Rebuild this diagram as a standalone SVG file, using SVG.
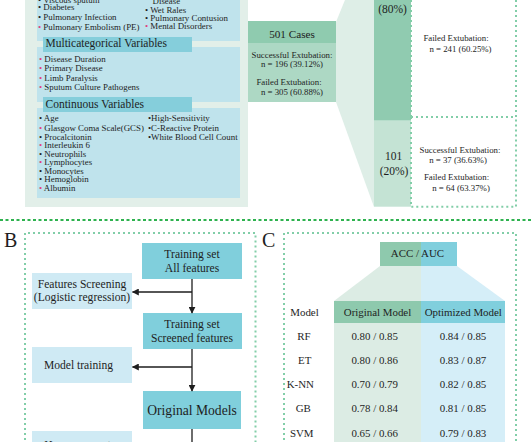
<svg xmlns="http://www.w3.org/2000/svg" width="531" height="442" viewBox="0 0 531 442">
<defs>
<style>
text{font-family:"Liberation Serif","Times New Roman",serif;fill:#1e1e1e}
.s9{font-size:8.9px}
.s88{font-size:8.8px}
.hd{font-size:11.5px}
.b{font-size:11.6px}
.c{font-size:10.9px}
.m{text-anchor:middle}
.pk{fill:#e0407f}
.bl{fill:#bfe3ec}
.hb{fill:#85cedb}
.dot{fill:none;stroke:#82cea8;stroke-width:2;stroke-dasharray:2 3}
.cy{fill:#80cfdc}
.lc{fill:#cfeaf4}
.ln{stroke:#1e1e1e;stroke-width:1.3;fill:none}
</style>
<marker id="ah" viewBox="0 0 10 10" refX="9" refY="5" markerWidth="7" markerHeight="7" markerUnits="userSpaceOnUse" orient="auto">
<path d="M0,0 L10,5 L0,10 z" fill="#1e1e1e"/>
</marker>
</defs>
<rect width="531" height="442" fill="#ffffff"/>

<!-- Panel A -->
<g id="panelA">
<rect x="25" y="-20" width="223" height="227" fill="#e2efe9"/>
<g id="binary">
<rect class="bl" x="37" y="-20" width="203" height="61"/>
<text class="s9" x="38" y="2.7">• Viscous sputum</text>
<text class="s9" x="38" y="10">• Diabetes</text>
<text class="s9" x="38" y="19.5">• Pulmonary Infection</text>
<text class="s9" x="38" y="30"><tspan class="pk">•</tspan> Pulmonary Embolism (PE)</text>
<text class="s9" x="152.5" y="4">Disease</text>
<text class="s9" x="145" y="12.7">• Wet Rales</text>
<text class="s9" x="145" y="21.3">• Pulmonary Contusion</text>
<text class="s9" x="145" y="29.3"><tspan class="pk">•</tspan> Mental Disorders</text>
</g>
<g id="multicategorical">
<rect class="bl" x="37" y="47" width="203" height="55"/>
<rect class="hb" x="43" y="37" width="149" height="15"/>
<text class="hd" x="45.5" y="46.5">Multicategorical Variables</text>
<text class="s9" x="39" y="61.7"><tspan class="pk">•</tspan> Disease Duration</text>
<text class="s9" x="39" y="71"><tspan class="pk">•</tspan> Primary Disease</text>
<text class="s9" x="39" y="80.7"><tspan class="pk">•</tspan> Limb Paralysis</text>
<text class="s9" x="39" y="90.3"><tspan class="pk">•</tspan> Sputum Culture Pathogens</text>
</g>
<g id="continuous">
<rect class="bl" x="37" y="108" width="203" height="90"/>
<rect class="hb" x="43" y="97" width="149" height="15"/>
<text class="hd" x="45.5" y="107.5">Continuous Variables</text>
<text class="s9" x="39" y="121">• Age</text>
<text class="s9" x="39" y="130.7"><tspan class="pk">•</tspan> Glasgow Coma Scale(GCS)</text>
<text class="s9" x="39" y="139.7">• Procalcitonin</text>
<text class="s9" x="39" y="148.3"><tspan class="pk">•</tspan> Interleukin 6</text>
<text class="s9" x="39" y="156.7">• Neutrophils</text>
<text class="s9" x="39" y="165.3"><tspan class="pk">•</tspan> Lymphocytes</text>
<text class="s9" x="39" y="174">• Monocytes</text>
<text class="s9" x="39" y="182.3">• Hemoglobin</text>
<text class="s9" x="39" y="191"><tspan class="pk">•</tspan> Albumin</text>
<text class="s9" x="148" y="121">•High-Sensitivity</text>
<text class="s9" x="148" y="131.3">•C-Reactive Protein</text>
<text class="s9" x="148" y="140.3">•White Blood Cell Count</text>
</g>
</g>

<g id="split">
<polygon points="336,22 349,-10 374,-10 374,207 336,102" fill="#deeee7"/>
</g>

<g id="cases501">
<rect x="248" y="21" width="88" height="22" fill="#8fcbaf"/>
<rect x="248" y="43" width="88" height="59" fill="#add8c4"/>
<text class="m" x="292" y="37.7" style="font-size:11.2px">501 Cases</text>
<text class="s88 m" x="292" y="58.3">Successful Extubation:</text>
<text class="s88 m" x="292" y="67.3">n = 196 (39.12%)</text>
<text class="s88 m" x="289" y="85">Failed Extubation:</text>
<text class="s88 m" x="292" y="95">n = 305 (60.88%)</text>
</g>

<g id="train400">
<rect x="374" y="-20" width="37" height="140.7" fill="#90cbb0"/>
<text class="m" x="392.5" y="13" style="font-size:11.5px">(80%)</text>
<rect x="411" y="-20" width="105" height="137" fill="#ffffff"/>
<path class="dot" d="M411,-20 V117 M411,117 H516 M516,-20 V117"/>
<text class="s88 m" x="456" y="41.3">Failed Extubation:</text>
<text class="s88 m" x="460.5" y="51.7">n = 241 (60.25%)</text>
</g>

<g id="test101">
<rect x="374" y="120.7" width="37" height="86" fill="#c4e3d4"/>
<text class="m" x="393.5" y="160" style="font-size:11.5px">101</text>
<text class="m" x="394" y="175" style="font-size:11.5px">(20%)</text>
<path class="dot" d="M411,117 V206.7 H516 V117"/>
<text class="s88 m" x="460" y="152.7">Successful Extubation:</text>
<text class="s88 m" x="458" y="162.7">n = 37 (36.63%)</text>
<text class="s88 m" x="456.5" y="180.3">Failed Extubation:</text>
<text class="s88 m" x="461" y="190.7">n = 64 (63.37%)</text>
</g>

<line x1="0" y1="220" x2="531" y2="220" stroke="#2eb24f" stroke-width="2" stroke-dasharray="3 2.5"/>

<!-- Panel B -->
<g id="panelB">
<text x="4" y="247" style="font-size:20px">B</text>
<path class="dot" d="M25,460 V233 H255.5 V460"/>
</g>
<g id="ts-all">
<rect class="cy" x="142" y="243" width="100" height="36"/>
<text class="b m" x="192" y="257.7">Training set</text>
<text class="b m" x="192" y="271.7">All features</text>
</g>
<g id="feat-screen">
<rect class="lc" x="32" y="273" width="100" height="36"/>
<text class="b m" x="82" y="287.7">Features Screening</text>
<text class="b m" x="82" y="300.5">(Logistic regression)</text>
</g>
<g id="ts-screened">
<rect class="cy" x="143" y="313" width="99" height="36"/>
<text class="b m" x="192" y="327.7">Training set</text>
<text class="b m" x="192" y="341.7">Screened features</text>
</g>
<g id="model-train">
<rect class="lc" x="32" y="347" width="100" height="36"/>
<text class="b m" x="78.5" y="369.3">Model training</text>
</g>
<g id="orig-models">
<rect class="cy" x="143" y="391" width="98" height="38"/>
<text class="m" x="192" y="415" style="font-size:13.6px">Original Models</text>
</g>
<g id="hyperparam">
<rect class="lc" x="32" y="431" width="100" height="30"/>
<text class="b m" x="82" y="448.5">Hyperparameter</text>
</g>
<g id="connectors">
<line class="ln" x1="192" y1="279" x2="192" y2="313" marker-end="url(#ah)"/>
<line class="ln" x1="192" y1="292" x2="132.5" y2="292" marker-end="url(#ah)"/>
<line class="ln" x1="192" y1="349" x2="192" y2="391" marker-end="url(#ah)"/>
<line class="ln" x1="192" y1="367" x2="132.5" y2="367" marker-end="url(#ah)"/>
<line class="ln" x1="192" y1="429" x2="192" y2="450"/>
</g>

<!-- Panel C -->
<g id="panelC">
<text x="262" y="247" style="font-size:20px">C</text>
<path class="dot" d="M284,460 V233 H516 V460"/>
</g>
<g id="acc-auc">
<polygon points="380,266 421,266 421,301 334,301" fill="#dcece4"/>
<polygon points="421,266 457,266 505,301 421,301" fill="#d5eef8"/>
<rect x="380" y="242" width="41" height="24" fill="#8ec9ad"/>
<rect x="421" y="242" width="36" height="24" fill="#80cfdd"/>
<text class="c m" x="417.5" y="257.3">ACC / AUC</text>
</g>
<g id="table">
<rect x="334" y="323" width="87" height="130" fill="#dcece4"/>
<rect x="421" y="323" width="84" height="130" fill="#d5eef8"/>
<rect x="334" y="301" width="87" height="22" fill="#8ec9ad"/>
<rect x="421" y="301" width="84" height="22" fill="#80cfdd"/>
<text class="c m" x="304.5" y="316">Model</text>
<text class="c m" x="377.5" y="316">Original Model</text>
<text class="c m" x="463.3" y="316">Optimized Model</text>
<text class="c m" x="304" y="340">RF</text>
<text class="c m" x="374.7" y="340">0.80 / 0.85</text>
<text class="c m" x="463" y="340">0.84 / 0.85</text>
<text class="c m" x="304.7" y="364">ET</text>
<text class="c m" x="374.7" y="364">0.80 / 0.86</text>
<text class="c m" x="463" y="364">0.83 / 0.87</text>
<text class="c m" x="300.3" y="388.3">K-NN</text>
<text class="c m" x="374.7" y="388.3">0.70 / 0.79</text>
<text class="c m" x="463" y="388.3">0.82 / 0.85</text>
<text class="c m" x="303.3" y="412.3">GB</text>
<text class="c m" x="374.7" y="412.3">0.78 / 0.84</text>
<text class="c m" x="463" y="412.3">0.81 / 0.85</text>
<text class="c m" x="301.7" y="436.7">SVM</text>
<text class="c m" x="374.7" y="436.7">0.65 / 0.66</text>
<text class="c m" x="463" y="436.7">0.79 / 0.83</text>
</g>
</svg>
